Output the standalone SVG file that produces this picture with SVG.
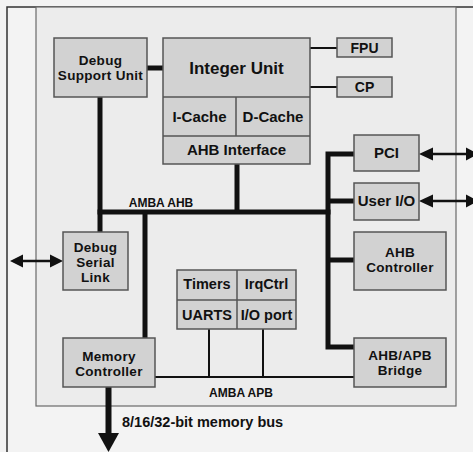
<svg xmlns="http://www.w3.org/2000/svg" width="473" height="452" viewBox="0 0 473 452">
<defs>
<style>
.bg{fill:#f3f3f3}
.chip{fill:#ececec;stroke:#6a6a6a;stroke-width:1.2}
.frame{stroke:#333;stroke-width:1.5;fill:none}
.box{fill:#d2d2d2;stroke:#555;stroke-width:1.5}
.div{stroke:#555;stroke-width:1.5}
.t{font-family:"Liberation Sans",Arial,sans-serif;font-weight:bold;font-size:15px;fill:#111;text-anchor:middle}
.m{font-size:13.5px;letter-spacing:0.3px}
.s{font-size:12px}
.bus{stroke:#111;stroke-width:5;fill:none}
.thin{stroke:#111;stroke-width:2;fill:none}
.arr{stroke:#111;stroke-width:2.5;fill:none}
.head{fill:#111}
</style>
</defs>
<rect class="bg" x="0" y="0" width="473" height="452"/>
<path class="frame" d="M7,452 V7 H473"/>
<rect class="chip" x="36" y="7" width="420" height="399"/>

<g id="connectors">
  <line class="bus" x1="147" y1="68" x2="163" y2="68"/>
  <line class="thin" x1="310" y1="48" x2="337" y2="48"/>
  <line class="thin" x1="310" y1="87" x2="337" y2="87"/>
  <line class="bus" x1="100" y1="97" x2="100" y2="232"/>
  <line class="bus" x1="97.5" y1="212" x2="330.5" y2="212"/>
  <line class="bus" x1="237" y1="164" x2="237" y2="212"/>
  <line class="bus" x1="145" y1="212" x2="145" y2="338"/>
  <polyline class="bus" points="354,154 328,154 328,347 354,347"/>
  <line class="bus" x1="328" y1="201" x2="354" y2="201"/>
  <line class="bus" x1="328" y1="260" x2="354" y2="260"/>
  <line class="thin" x1="155" y1="377" x2="354" y2="377"/>
  <line class="thin" x1="209" y1="329" x2="209" y2="377"/>
  <line class="thin" x1="263" y1="329" x2="263" y2="377"/>
  <line class="bus" x1="108.5" y1="387" x2="108.5" y2="434" style="stroke-width:6"/>
  <polygon class="head" points="98,433 119,433 108.5,452"/>
  <line class="arr" x1="430" y1="154" x2="470" y2="154"/>
  <polygon class="head" points="419,154 433,147.5 433,160.5"/>
  <polygon class="head" points="478,154 466,147.5 466,160.5"/>
  <line class="arr" x1="430" y1="201" x2="470" y2="201"/>
  <polygon class="head" points="419,201 433,194.5 433,207.5"/>
  <polygon class="head" points="478,201 466,194.5 466,207.5"/>
  <line class="arr" x1="20" y1="261" x2="52" y2="261"/>
  <polygon class="head" points="10,261 23,254.5 23,267.5"/>
  <polygon class="head" points="63,261 50,254.5 50,267.5"/>
  <text class="t s" x="161" y="207">AMBA AHB</text>
  <text class="t s" x="241" y="397">AMBA APB</text>
  <text class="t" x="122" y="427" style="text-anchor:start;font-size:14.5px">8/16/32-bit memory bus</text>
</g>

<g id="dsu">
  <rect class="box" x="54" y="38" width="93" height="59"/>
  <text class="t m" x="100.5" y="65">Debug</text>
  <text class="t m" x="100.5" y="80">Support Unit</text>
</g>
<g id="integer-unit">
  <rect class="box" x="163" y="38" width="147" height="126"/>
  <line class="div" x1="163" y1="97" x2="310" y2="97"/>
  <line class="div" x1="163" y1="136" x2="310" y2="136"/>
  <line class="div" x1="236" y1="97" x2="236" y2="136"/>
  <text class="t" x="236.5" y="74" style="font-size:17px">Integer Unit</text>
  <text class="t" x="199.5" y="122">I-Cache</text>
  <text class="t" x="273" y="122">D-Cache</text>
  <text class="t" x="236.5" y="155">AHB Interface</text>
</g>
<g id="fpu">
  <rect class="box" x="337" y="38" width="55" height="19"/>
  <text class="t" x="364.5" y="53" style="font-size:14px">FPU</text>
</g>
<g id="cp">
  <rect class="box" x="337" y="77" width="55" height="20"/>
  <text class="t" x="364.5" y="92" style="font-size:14px">CP</text>
</g>
<g id="pci">
  <rect class="box" x="354" y="135" width="65" height="36"/>
  <text class="t" x="386.5" y="158">PCI</text>
</g>
<g id="user-io">
  <rect class="box" x="354" y="183" width="65" height="37"/>
  <text class="t" x="386.5" y="206">User I/O</text>
</g>
<g id="ahb-controller">
  <rect class="box" x="354" y="232" width="92" height="58"/>
  <text class="t m" x="400" y="257">AHB</text>
  <text class="t m" x="400" y="272">Controller</text>
</g>
<g id="ahb-apb-bridge">
  <rect class="box" x="354" y="338" width="92" height="49"/>
  <text class="t m" x="400" y="360">AHB/APB</text>
  <text class="t m" x="400" y="375">Bridge</text>
</g>
<g id="debug-serial-link">
  <rect class="box" x="63" y="232" width="65" height="58"/>
  <text class="t m" x="95.5" y="252">Debug</text>
  <text class="t m" x="95.5" y="267">Serial</text>
  <text class="t m" x="95.5" y="282">Link</text>
</g>
<g id="memory-controller">
  <rect class="box" x="63" y="338" width="92" height="49"/>
  <text class="t m" x="109" y="361">Memory</text>
  <text class="t m" x="109" y="376">Controller</text>
</g>
<g id="peripherals">
  <rect class="box" x="177" y="270" width="119" height="59"/>
  <line class="div" x1="177" y1="300" x2="296" y2="300"/>
  <line class="div" x1="237" y1="270" x2="237" y2="329"/>
  <text class="t" x="207" y="289" style="font-size:14.5px">Timers</text>
  <text class="t" x="266.5" y="289" style="font-size:14.5px">IrqCtrl</text>
  <text class="t" x="207" y="320" style="font-size:14.5px">UARTS</text>
  <text class="t" x="266.5" y="320" style="font-size:14.5px">I/O port</text>
</g>
</svg>
